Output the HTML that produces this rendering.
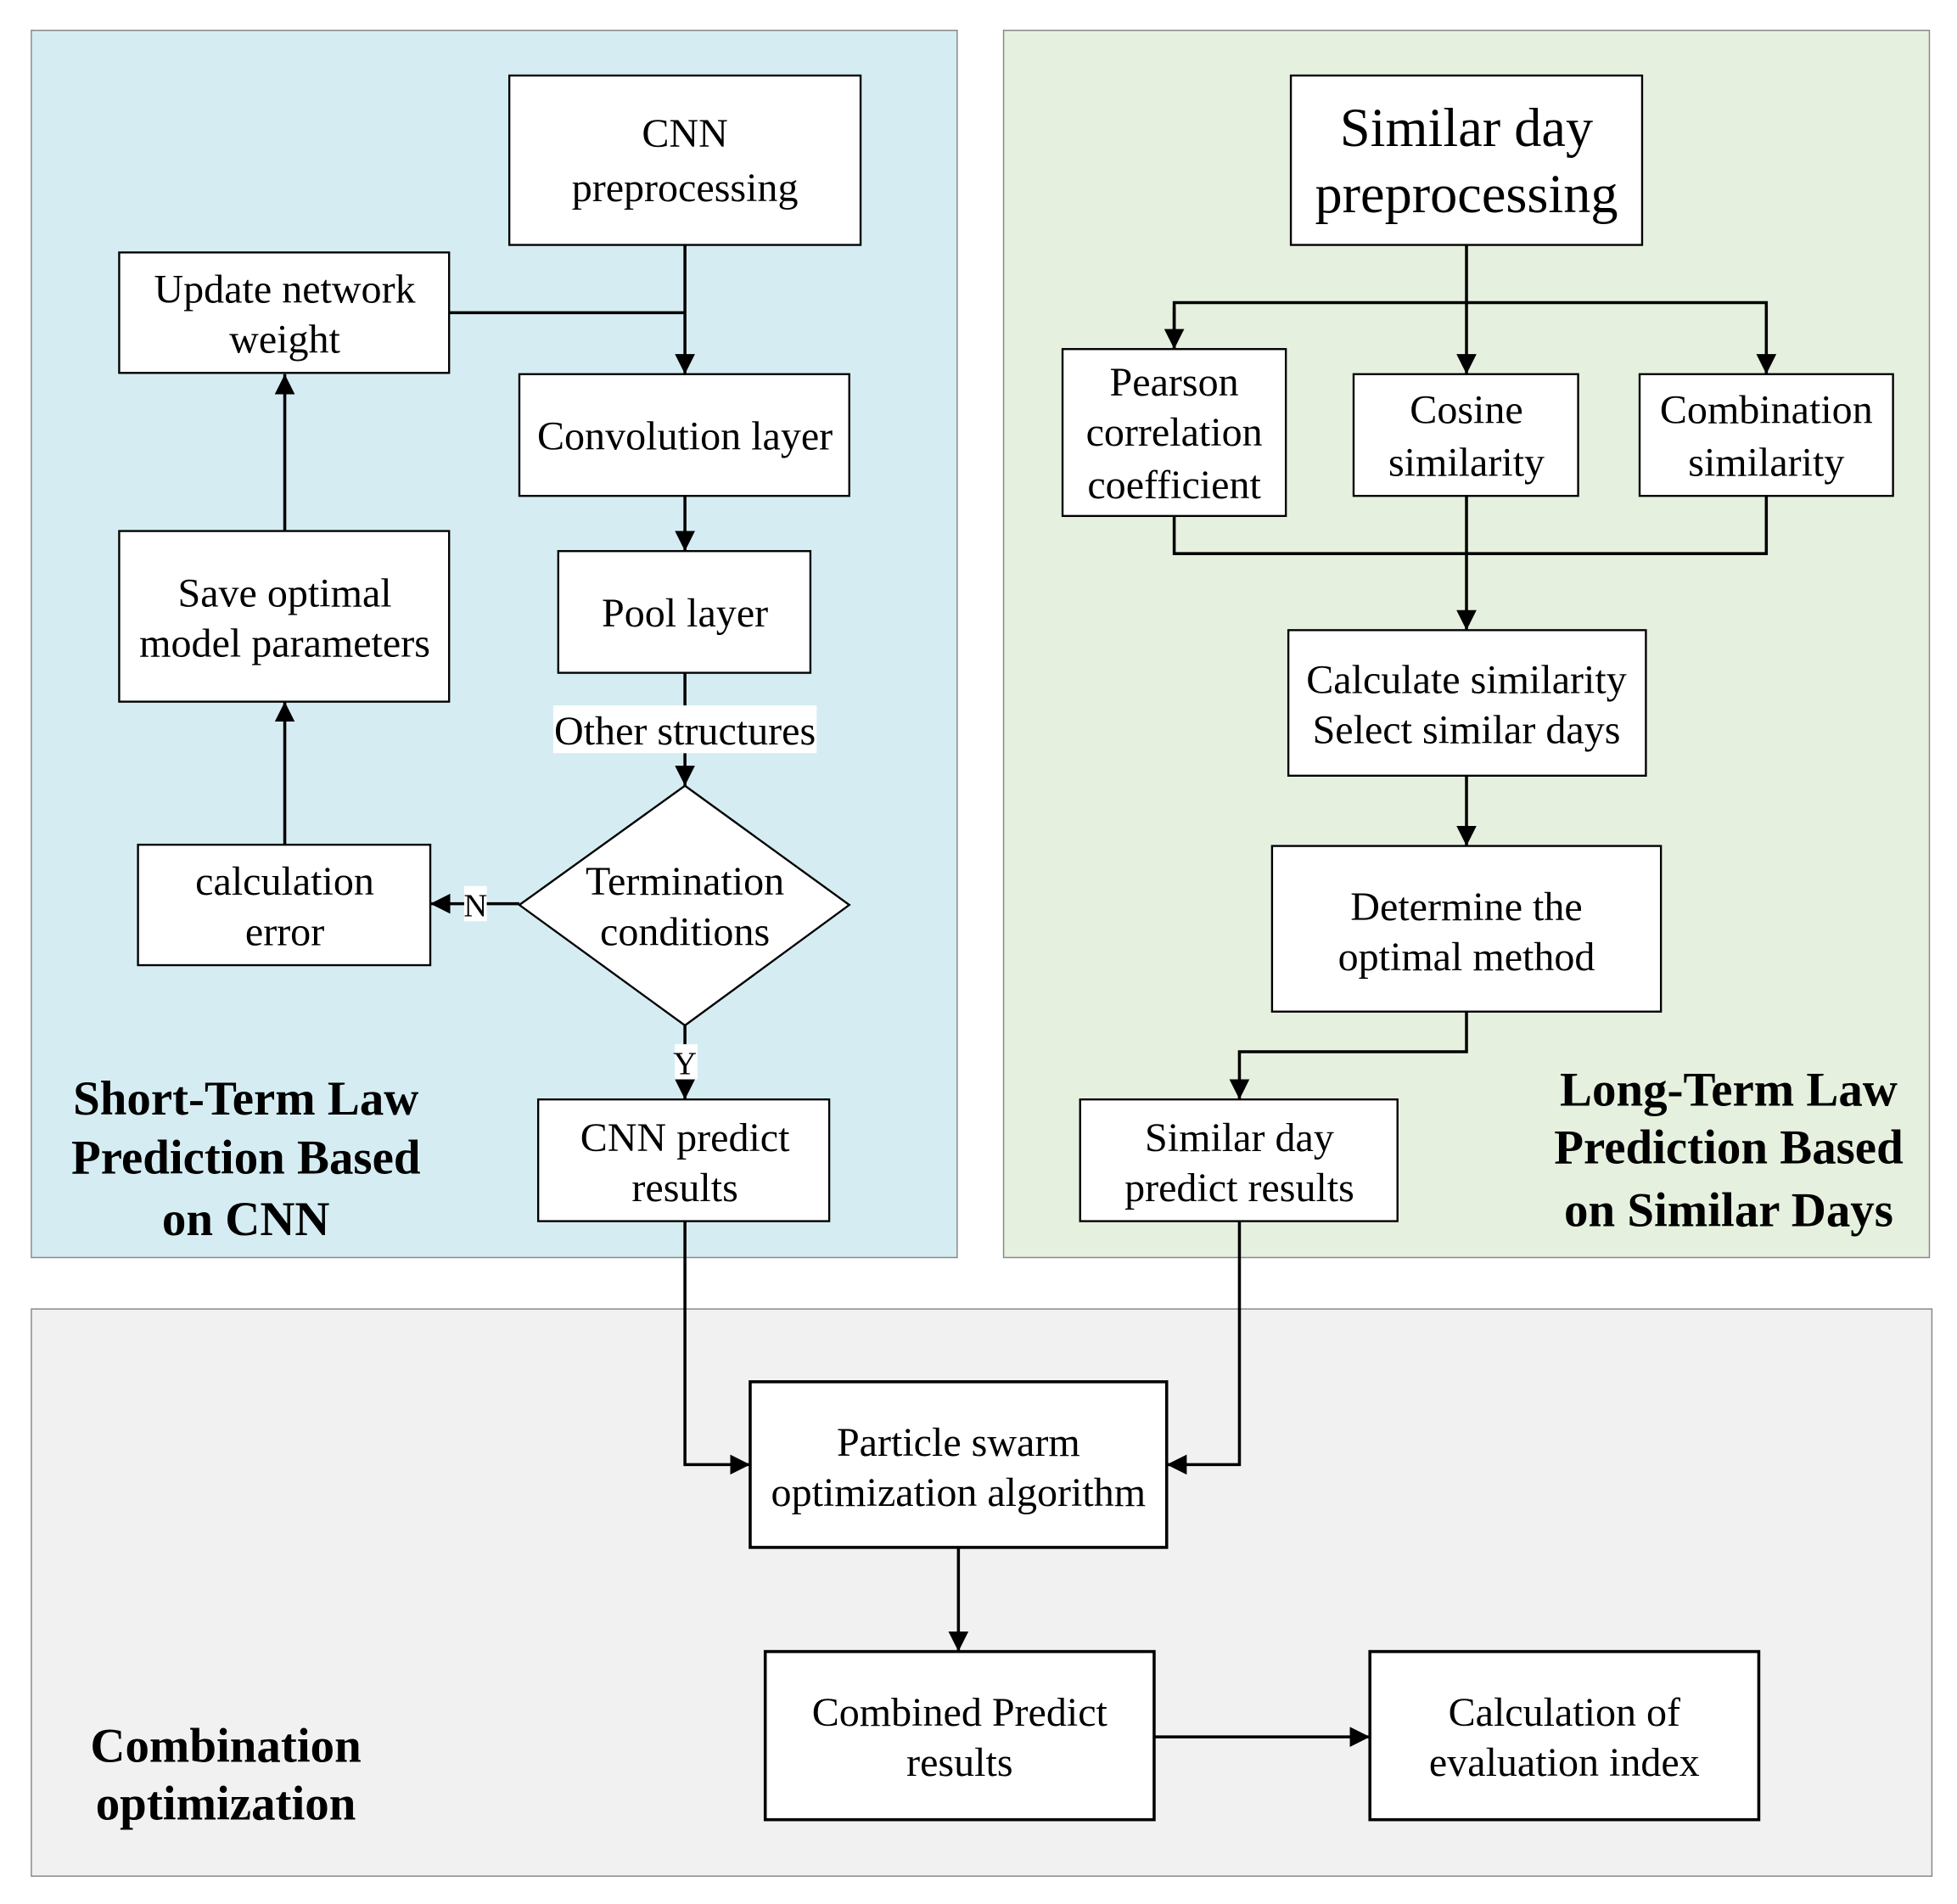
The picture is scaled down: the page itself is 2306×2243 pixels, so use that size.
<!DOCTYPE html>
<html><head><meta charset="utf-8"><style>
html,body{margin:0;padding:0;background:#fff;}
svg{display:block;}
text{font-family:"Liberation Serif",serif;fill:#000;}
.t{font-size:32.5px;text-anchor:middle;}
.b{font-size:38.5px;font-weight:bold;text-anchor:middle;}
.box{fill:#fff;stroke:#000;stroke-width:1.6;}
.ln{fill:none;stroke:#000;stroke-width:2.4;}
</style></head><body>
<svg width="2306" height="2243" viewBox="0 0 1560 1517" xmlns="http://www.w3.org/2000/svg">
<defs>
<marker id="ar" viewBox="0 0 10 10" markerWidth="16" markerHeight="16" refX="10" refY="5" orient="auto" markerUnits="userSpaceOnUse"><path d="M0,0 L10,5 L0,10 Z" fill="#000"/></marker></defs>
<rect x="25" y="24" width="738" height="978" fill="#d5edf2" stroke="#888" stroke-width="1"/>
<rect x="800" y="24" width="738" height="978" fill="#e6f0df" stroke="#888" stroke-width="1"/>
<rect x="25" y="1043" width="1515" height="452" fill="#f1f1f1" stroke="#888" stroke-width="1"/>

<g class="ln">
<path d="M546 195 V298" marker-end="url(#ar)"/>
<path d="M358 249 H546"/>
<path d="M546 395 V439" marker-end="url(#ar)"/>
<path d="M546 536 V562"/>
<path d="M546 600 V626" marker-end="url(#ar)"/>
<path d="M414 720 H343" marker-end="url(#ar)"/>
<path d="M546 817 V876" marker-end="url(#ar)"/>
<path d="M227 673 V559" marker-end="url(#ar)"/>
<path d="M227 423 V298" marker-end="url(#ar)"/>
<path d="M1169 195 V298" marker-end="url(#ar)"/>
<path d="M936 278 V241 H1408 V298" marker-end="url(#ar)"/>
<path d="M936 245 V278" marker-end="url(#ar)"/>
<path d="M936 411 V441 H1408 V395"/>
<path d="M1169 395 V502" marker-end="url(#ar)"/>
<path d="M1169 618 V674" marker-end="url(#ar)"/>
<path d="M1169 806 V838 H988 V876" marker-end="url(#ar)"/>
<path d="M546 973 V1167 H598" marker-end="url(#ar)"/>
<path d="M988 973 V1167 H930" marker-end="url(#ar)"/>
<path d="M764 1233 V1316" marker-end="url(#ar)"/>
<path d="M920 1384 H1092" marker-end="url(#ar)"/>
</g>

<rect class="box" x="406" y="60" width="280" height="135"/>
<text class="t" x="546" y="117">CNN</text><text class="t" x="546" y="160">preprocessing</text>
<rect class="box" x="95" y="201" width="263" height="96"/>
<text class="t" x="227" y="241">Update network</text><text class="t" x="227" y="281">weight</text>
<rect class="box" x="414" y="298" width="263" height="97"/>
<text class="t" x="546" y="358">Convolution layer</text>
<rect class="box" x="445" y="439" width="201" height="97"/>
<text class="t" x="546" y="499">Pool layer</text>
<rect x="441" y="562" width="210" height="38" fill="#fff"/>
<text class="t" x="546" y="593">Other structures</text>
<polygon class="box" points="546,626 677,721 546,817 414,721"/>
<text class="t" x="546" y="713">Termination</text><text class="t" x="546" y="753">conditions</text>
<rect class="box" x="95" y="423" width="263" height="136"/>
<text class="t" x="227" y="483">Save optimal</text><text class="t" x="227" y="523">model parameters</text>
<rect class="box" x="110" y="673" width="233" height="96"/>
<text class="t" x="227" y="713">calculation</text><text class="t" x="227" y="753">error</text>
<rect x="370" y="706" width="18" height="28" fill="#fff"/>
<text x="379" y="730" style="font-size:26px;text-anchor:middle">N</text>
<rect x="538" y="832" width="18" height="28" fill="#fff"/>
<text x="546" y="856" style="font-size:26px;text-anchor:middle">Y</text>
<rect class="box" x="429" y="876" width="232" height="97"/>
<text class="t" x="546" y="917">CNN predict</text><text class="t" x="546" y="957">results</text>
<text class="b" x="196" y="888">Short-Term Law</text>
<text class="b" x="196" y="935">Prediction Based</text>
<text class="b" x="196" y="984">on CNN</text>

<rect class="box" x="1029" y="60" width="280" height="135"/>
<text x="1169" y="116" style="font-size:43.5px;text-anchor:middle">Similar day</text>
<text x="1169" y="169" style="font-size:43.5px;text-anchor:middle">preprocessing</text>
<rect class="box" x="847" y="278" width="178" height="133"/>
<text class="t" x="936" y="315">Pearson</text><text class="t" x="936" y="355">correlation</text><text class="t" x="936" y="397">coefficient</text>
<rect class="box" x="1079" y="298" width="179" height="97"/>
<text class="t" x="1169" y="337">Cosine</text><text class="t" x="1169" y="379">similarity</text>
<rect class="box" x="1307" y="298" width="202" height="97"/>
<text class="t" x="1408" y="337">Combination</text><text class="t" x="1408" y="379">similarity</text>
<rect class="box" x="1027" y="502" width="285" height="116"/>
<text class="t" x="1169" y="552">Calculate similarity</text><text class="t" x="1169" y="592">Select similar days</text>
<rect class="box" x="1014" y="674" width="310" height="132"/>
<text class="t" x="1169" y="733">Determine the</text><text class="t" x="1169" y="773">optimal method</text>
<rect class="box" x="861" y="876" width="253" height="97"/>
<text class="t" x="988" y="917">Similar day</text><text class="t" x="988" y="957">predict results</text>
<text class="b" x="1378" y="881">Long-Term Law</text>
<text class="b" x="1378" y="927">Prediction Based</text>
<text class="b" x="1378" y="977">on Similar Days</text>

<rect class="box" x="598" y="1101" width="332" height="132" style="stroke-width:2.4"/>
<text class="t" x="764" y="1160">Particle swarm</text><text class="t" x="764" y="1200">optimization algorithm</text>
<rect class="box" x="610" y="1316" width="310" height="134" style="stroke-width:2.4"/>
<text class="t" x="765" y="1375">Combined Predict</text><text class="t" x="765" y="1415">results</text>
<rect class="box" x="1092" y="1316" width="310" height="134" style="stroke-width:2.4"/>
<text class="t" x="1247" y="1375">Calculation of</text><text class="t" x="1247" y="1415">evaluation index</text>
<text class="b" x="180" y="1404">Combination</text>
<text class="b" x="180" y="1450">optimization</text>
</svg>
</body></html>
